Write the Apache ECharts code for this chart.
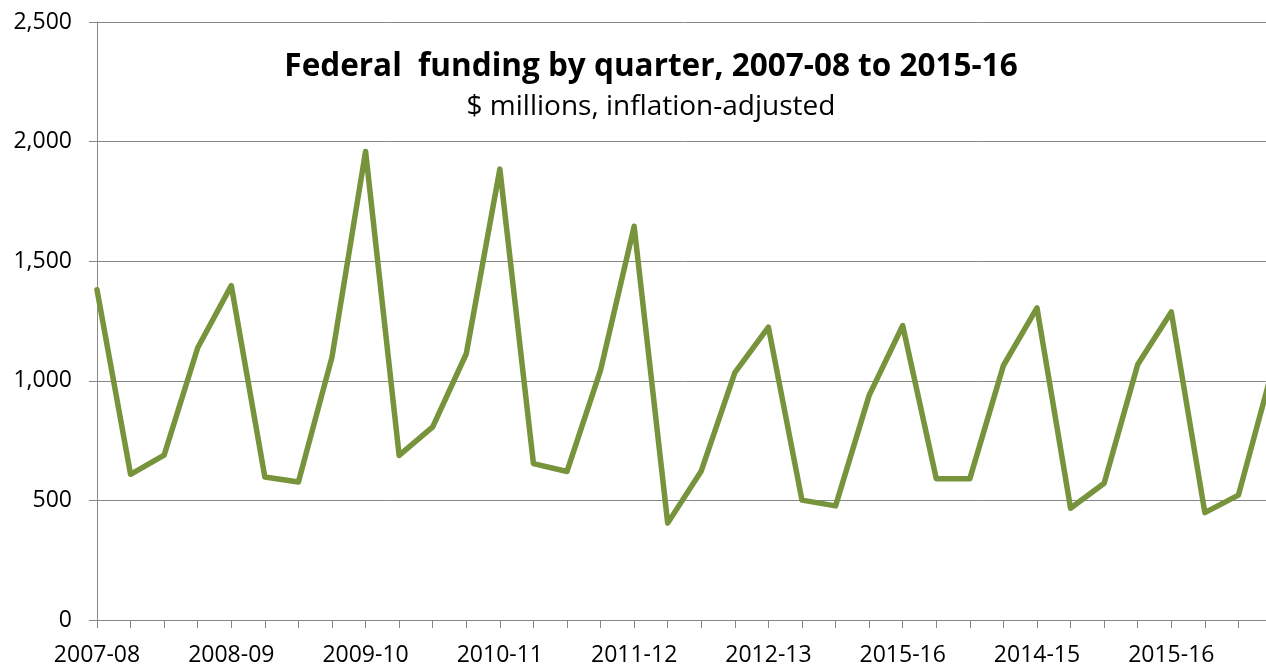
<!DOCTYPE html>
<html>
<head>
<meta charset="utf-8">
<script src="https://cdn.jsdelivr.net/npm/echarts@6/dist/echarts.min.js"></script>
<style>
html,body{margin:0;padding:0;background:#fff;overflow:hidden;}
#chart{width:1272px;height:667px;}
</style>
</head>
<body>
<div id="chart"></div>
<script>
// Fiscal year labels (one per 4 quarters)
var yearLabels = ['2007-08','2008-09','2009-10','2010-11','2011-12','2012-13','2015-16','2014-15','2015-16'];
// Quarterly federal funding, $ millions, inflation-adjusted
var funding = [1381,609,689,1138, 1398,598,577,1099, 1959,688,807,1113, 1885,654,621,1045,
               1646,405,623,1034, 1224,501,477,939, 1231,591,591,1064, 1305,467,572,1068,
               1288,449,522,1040];
var yTicks = [0,500,1000,1500,2000,2500];
var titleText = 'Federal  funding by quarter, 2007-08 to 2015-16';
var subtitleText = '$ millions, inflation-adjusted';

var categories = [];
yearLabels.forEach(function(y, i){
  for (var q = 1; q <= 4; q++) categories.push(y + '|Q' + q + '|' + i);
});

var chart = echarts.init(document.getElementById('chart'), null, {renderer:'canvas'});
var font = '"Open Sans", sans-serif';
var gray = '#878787';
chart.setOption({
  animation:false,
  backgroundColor:'#fff',
  title:[
    {text:titleText, left:651, textAlign:'center', top:47, padding:0,
     textStyle:{fontFamily:font, fontWeight:'bold', fontSize:31.5, color:'#000', lineHeight:40}},
    {text:subtitleText, left:651, textAlign:'center', top:90, padding:0,
     textStyle:{fontFamily:font, fontWeight:'normal', fontSize:28, color:'#000', lineHeight:34}}
  ],
  grid:{left:97, right:0, top:22, bottom:46},
  xAxis:{
    type:'category', data:categories, boundaryGap:false,
    axisLine:{show:true, lineStyle:{color:gray, width:1}},
    axisTick:{show:true, interval:0, length:8, lineStyle:{color:gray, width:1}},
    axisLabel:{interval:3, margin:24, fontFamily:font, fontSize:23, color:'#000',
      formatter:function(v){ return v.split('|')[0]; }},
    splitLine:{show:false}
  },
  yAxis:{
    type:'value', min:yTicks[0], max:yTicks[yTicks.length-1], interval:500,
    axisLine:{show:true, lineStyle:{color:gray, width:1}},
    axisTick:{show:true, length:8, lineStyle:{color:gray, width:1}},
    axisLabel:{margin:25, fontFamily:font, fontSize:23, color:'#000',
      formatter:function(v){ return v.toLocaleString('en-US'); }},
    splitLine:{show:true, lineStyle:{color:gray, width:1}}
  },
  series:[{
    type:'line', data:funding, symbol:'none', smooth:false,
    lineStyle:{color:'#77933C', width:5.5, cap:'round', join:'round'},
    clip:true
  }]
});
</script>
</body>
</html>
